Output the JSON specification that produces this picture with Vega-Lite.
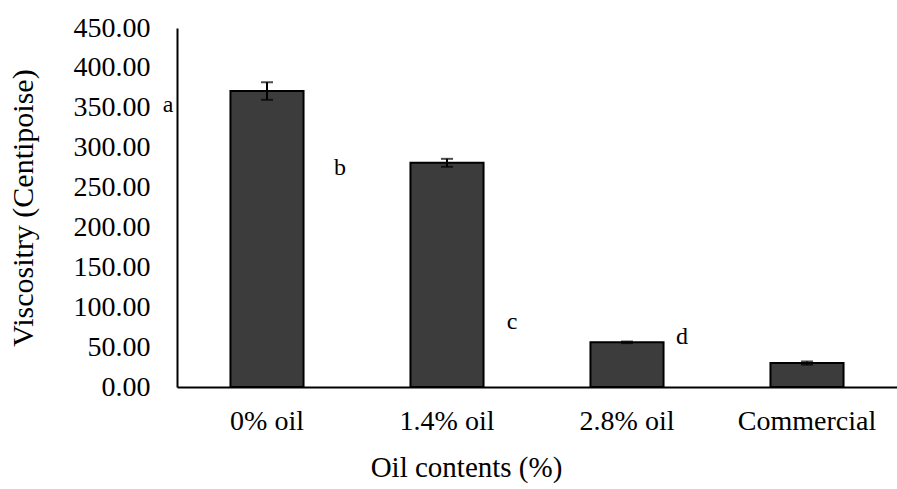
{
  "$schema": "https://vega.github.io/schema/vega-lite/v6.json",
  "autosize": "none",
  "width": 720,
  "height": 359,
  "padding": {"left": 177, "top": 28, "right": 0, "bottom": 102},
  "background": "white",
  "config": {
    "view": {"stroke": null},
    "font": "Liberation Serif",
    "axis": {"labelFont": "Liberation Serif", "titleFont": "Liberation Serif", "labelColor": "black", "titleColor": "black", "titleFontWeight": "normal", "grid": false, "ticks": false, "domainColor": "black", "domainWidth": 2},
    "axisY": {"labelFontSize": 28, "titleFontSize": 30, "labelPadding": 27, "titlePadding": 35, "labelOverlap": false}
  },
  "datasets": {
    "bars": [
      {"sample": "0% oil", "viscosity": 371, "err": 11},
      {"sample": "1.4% oil", "viscosity": 281, "err": 5},
      {"sample": "2.8% oil", "viscosity": 56, "err": 1},
      {"sample": "Commercial", "viscosity": 30, "err": 2}
    ],
    "letters": [
      {"letter": "a", "pos": -0.55, "yv": 354},
      {"letter": "b", "pos": 0.406, "yv": 274},
      {"letter": "c", "pos": 1.361, "yv": 81},
      {"letter": "d", "pos": 2.306, "yv": 63}
    ]
  },
  "layer": [
    {
      "data": {"name": "bars"},
      "layer": [
        {
          "mark": {"type": "bar", "color": "#3c3c3c", "stroke": "black", "strokeWidth": 2},
          "encoding": {
            "x": {"field": "sample", "type": "nominal", "sort": null,
              "scale": {"paddingInner": 0.594, "paddingOuter": 0.297},
              "axis": {"title": "Oil contents (%)", "labelAngle": 0, "labelFontSize": 28, "titleFontSize": 29, "labelPadding": 20, "titlePadding": 18, "titleX": 289}},
            "y": {"field": "viscosity", "type": "quantitative",
              "scale": {"domain": [0, 450], "nice": false},
              "axis": {"title": "Viscositry (Centipoise)", "format": ".2f", "values": [0, 50, 100, 150, 200, 250, 300, 350, 400, 450]}}
          }
        },
        {
          "mark": {"type": "errorbar", "color": "black", "ticks": {"size": 12, "thickness": 2, "color": "black"}, "rule": {"strokeWidth": 2}},
          "encoding": {
            "x": {"field": "sample", "type": "nominal", "sort": null},
            "y": {"field": "viscosity", "type": "quantitative",
              "axis": {"title": "Viscositry (Centipoise)", "format": ".2f", "values": [0, 50, 100, 150, 200, 250, 300, 350, 400, 450]}},
            "yError": {"field": "err"}
          }
        }
      ]
    },
    {
      "data": {"name": "letters"},
      "mark": {"type": "text", "fontSize": 24, "font": "Liberation Serif", "color": "black", "align": "center", "baseline": "middle"},
      "encoding": {
        "x": {"field": "pos", "type": "quantitative", "scale": {"domain": [-0.5, 3.5], "nice": false, "zero": false}, "axis": null},
        "y": {"field": "yv", "type": "quantitative",
          "axis": {"title": "Viscositry (Centipoise)", "format": ".2f", "values": [0, 50, 100, 150, 200, 250, 300, 350, 400, 450]}},
        "text": {"field": "letter"}
      }
    }
  ],
  "resolve": {"scale": {"x": "independent"}, "axis": {"x": "independent"}}
}
